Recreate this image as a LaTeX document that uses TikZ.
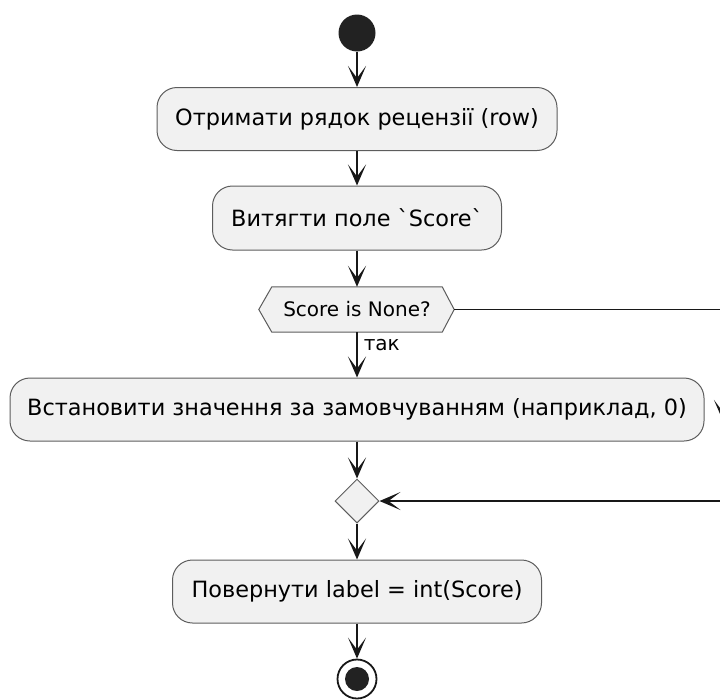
\documentclass[tikz,border=0pt]{standalone}
\usepackage{fontspec}
\setmainfont{DejaVu Sans}[Ligatures=TeXOff]
\usetikzlibrary{arrows.meta,shapes.geometric}

\definecolor{boxfill}{HTML}{F1F1F1}
\definecolor{linec}{HTML}{181818}
\definecolor{dotc}{HTML}{222222}

\tikzset{
  act/.style={draw=linec!70, line width=1pt, fill=boxfill, rounded corners=20pt,
    minimum height=63pt, inner sep=0pt, text=black,
    font=\fontsize{22.4}{26}\selectfont},
  flow/.style={draw=linec, line width=1.6pt,
    -{Stealth[length=21pt,width=18pt,inset=12pt]}},
  wire/.style={draw=linec, line width=1.6pt},
  lbl/.style={font=\fontsize{20}{24}\selectfont, text=black, inner sep=0pt},
}

\begin{document}
\begin{tikzpicture}[x=1pt,y=-1pt]
\useasboundingbox (0,0) rectangle (720,699);
\clip (0,0) rectangle (720,699);

% start dot
\node[circle, fill=dotc, minimum size=37pt, inner sep=0pt] (start) at (357,33) {};

% actions
\node[act, minimum width=400pt] (b1) at (357,119) {Отримати рядок рецензії (row)};
\node[act, minimum width=289pt, minimum height=64pt] (b2) at (357,218) {Витягти поле `Score`};

% decision hexagon
\node[lbl, minimum width=170pt, minimum height=45pt] (hex) at (357,309.5) {Score is None?};
\coordinate (hexL) at ([xshift=-13pt]hex.west);
\coordinate (hexR) at ([xshift=12pt]hex.east);
\draw[draw=linec!70, line width=1pt, fill=boxfill]
  (hex.north west) -- (hex.north east) -- (hexR) -- (hex.south east)
  -- (hex.south west) -- (hexL) -- cycle;
\node[lbl] at (hex) {Score is None?};

\node[act, minimum width=694pt] (b3) at (357,409.5) {Встановити значення за замовчуванням (наприклад, 0)};

% merge point
\node[diamond, draw=linec!70, line width=1pt, fill=boxfill, minimum width=44pt,
  minimum height=44pt, inner sep=0pt] (merge) at (357,501) {};

\node[act, minimum width=369pt] (b4) at (357,591.5) {Повернути label = int(Score)};

% end
\node[circle, draw=linec, line width=1.8pt, fill=white, minimum size=39pt, inner sep=0pt] (stop) at (357,679) {};
\node[circle, fill=dotc, minimum size=24pt, inner sep=0pt] (stopdot) at (stop) {};

% main flow
\draw[flow] (start) -- (b1);
\draw[flow] (b1) -- (b2);
\draw[flow] (b2) -- (hex.north);
\draw[flow] (hex.south) -- (b3)
  node[lbl, pos=0.28, anchor=west, xshift=6pt] (yes) {так};
\draw[flow] (b3) -- (merge);
\draw[flow] (merge) -- (b4);
\draw[flow] (b4) -- (stop);

% else branch along the right side
\coordinate (rt) at (723,309.5);
\coordinate (rm) at (723,421);
\coordinate (rb) at (723,501);
\draw[wire, line width=1.3pt] (hexR) -- (rt);
\draw[flow] (rt) -- (rm);
\draw[flow] (rm) -- (rb) -- (merge.east);
\end{tikzpicture}
\end{document}
